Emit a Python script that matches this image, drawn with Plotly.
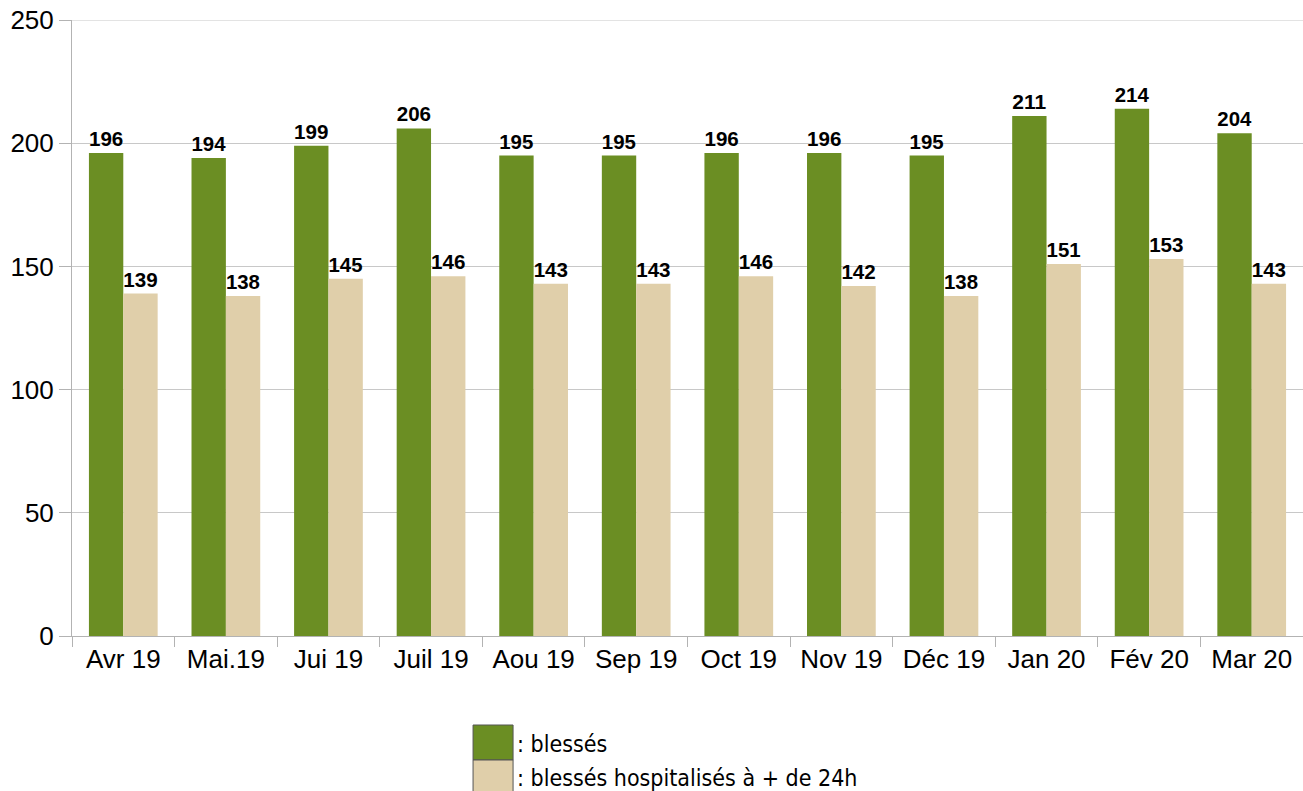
import plotly.graph_objects as go

categories = ["Avr 19", "Mai.19", "Jui 19", "Juil 19", "Aou 19", "Sep 19",
              "Oct 19", "Nov 19", "Déc 19", "Jan 20", "Fév 20", "Mar 20"]
blesses = [196, 194, 199, 206, 195, 195, 196, 196, 195, 211, 214, 204]
hospitalises = [139, 138, 145, 146, 143, 143, 146, 142, 138, 151, 153, 143]
y_ticks = [0, 50, 100, 150, 200, 250]

legend_labels = [": blessés", ": blessés hospitalisés à + de 24h"]
GREEN = "#6b8e23"
BEIGE = "#e0cfaa"
GRID = "#c8c8c8"

fig = go.Figure()
fig.add_trace(go.Bar(x=categories, y=blesses, name=legend_labels[0],
                     marker=dict(color=GREEN, line=dict(width=0)),
                     text=blesses, textposition="outside", cliponaxis=False,
                     textfont=dict(family="Liberation Sans", size=21, color="black", weight="bold")))
fig.add_trace(go.Bar(x=categories, y=hospitalises, name=legend_labels[1],
                     marker=dict(color=BEIGE, line=dict(width=0)),
                     text=hospitalises, textposition="outside", cliponaxis=False,
                     textfont=dict(family="Liberation Sans", size=21, color="black", weight="bold")))

# top gridline (plotly omits the one on the plot edge)
fig.add_shape(type="line", xref="paper", yref="y", x0=0, x1=1,
              y0=y_ticks[-1], y1=y_ticks[-1], line=dict(color=GRID, width=1), layer="below")

# custom legend (squares + text)
sq_tops = [-0.1445, -0.2013]
sq_bots = [-0.2013, -0.2581]
txt_y = [-0.1753, -0.2305]
for lab, col, t, b, ty in zip(legend_labels, [GREEN, BEIGE], sq_tops, sq_bots, txt_y):
    fig.add_shape(type="rect", xref="paper", yref="paper",
                  x0=0.3258, x1=0.3583, y0=b, y1=t,
                  fillcolor=col, line=dict(color="#555555", width=1))
    fig.add_annotation(xref="paper", yref="paper", x=0.3600, y=ty,
                       text=lab, showarrow=False, xanchor="left", yanchor="middle",
                       font=dict(family="DejaVu Sans Condensed, DejaVu Sans", size=23, color="black"))

fig.update_layout(
    width=1303, height=791,
    margin=dict(l=72, r=0, t=20, b=155, autoexpand=False),
    plot_bgcolor="white", paper_bgcolor="white",
    barmode="group", bargap=0.33, bargroupgap=0,
    showlegend=False,
    font=dict(family="Liberation Sans", size=26, color="black"),
    xaxis=dict(showline=True, linecolor="#b3b3b3", linewidth=1, automargin=False,
               ticks="outside", tickson="boundaries", ticklen=10, tickcolor="#b3b3b3",
               tickfont=dict(size=26), showgrid=False),
    yaxis=dict(range=[0, 250], tickvals=y_ticks, ticktext=[str(v) for v in y_ticks],
               ticklabeloverflow="allow", automargin=False,
               showline=True, linecolor="#b3b3b3", linewidth=1,
               ticks="outside", ticklen=12, tickcolor="#b3b3b3",
               showgrid=True, gridcolor=GRID, gridwidth=1, zeroline=False,
               tickfont=dict(size=26)),
)

fig.write_html("out.html", config={"displayModeBar": False},
               post_script="document.body.style.margin='0';document.body.style.overflow='hidden';")
